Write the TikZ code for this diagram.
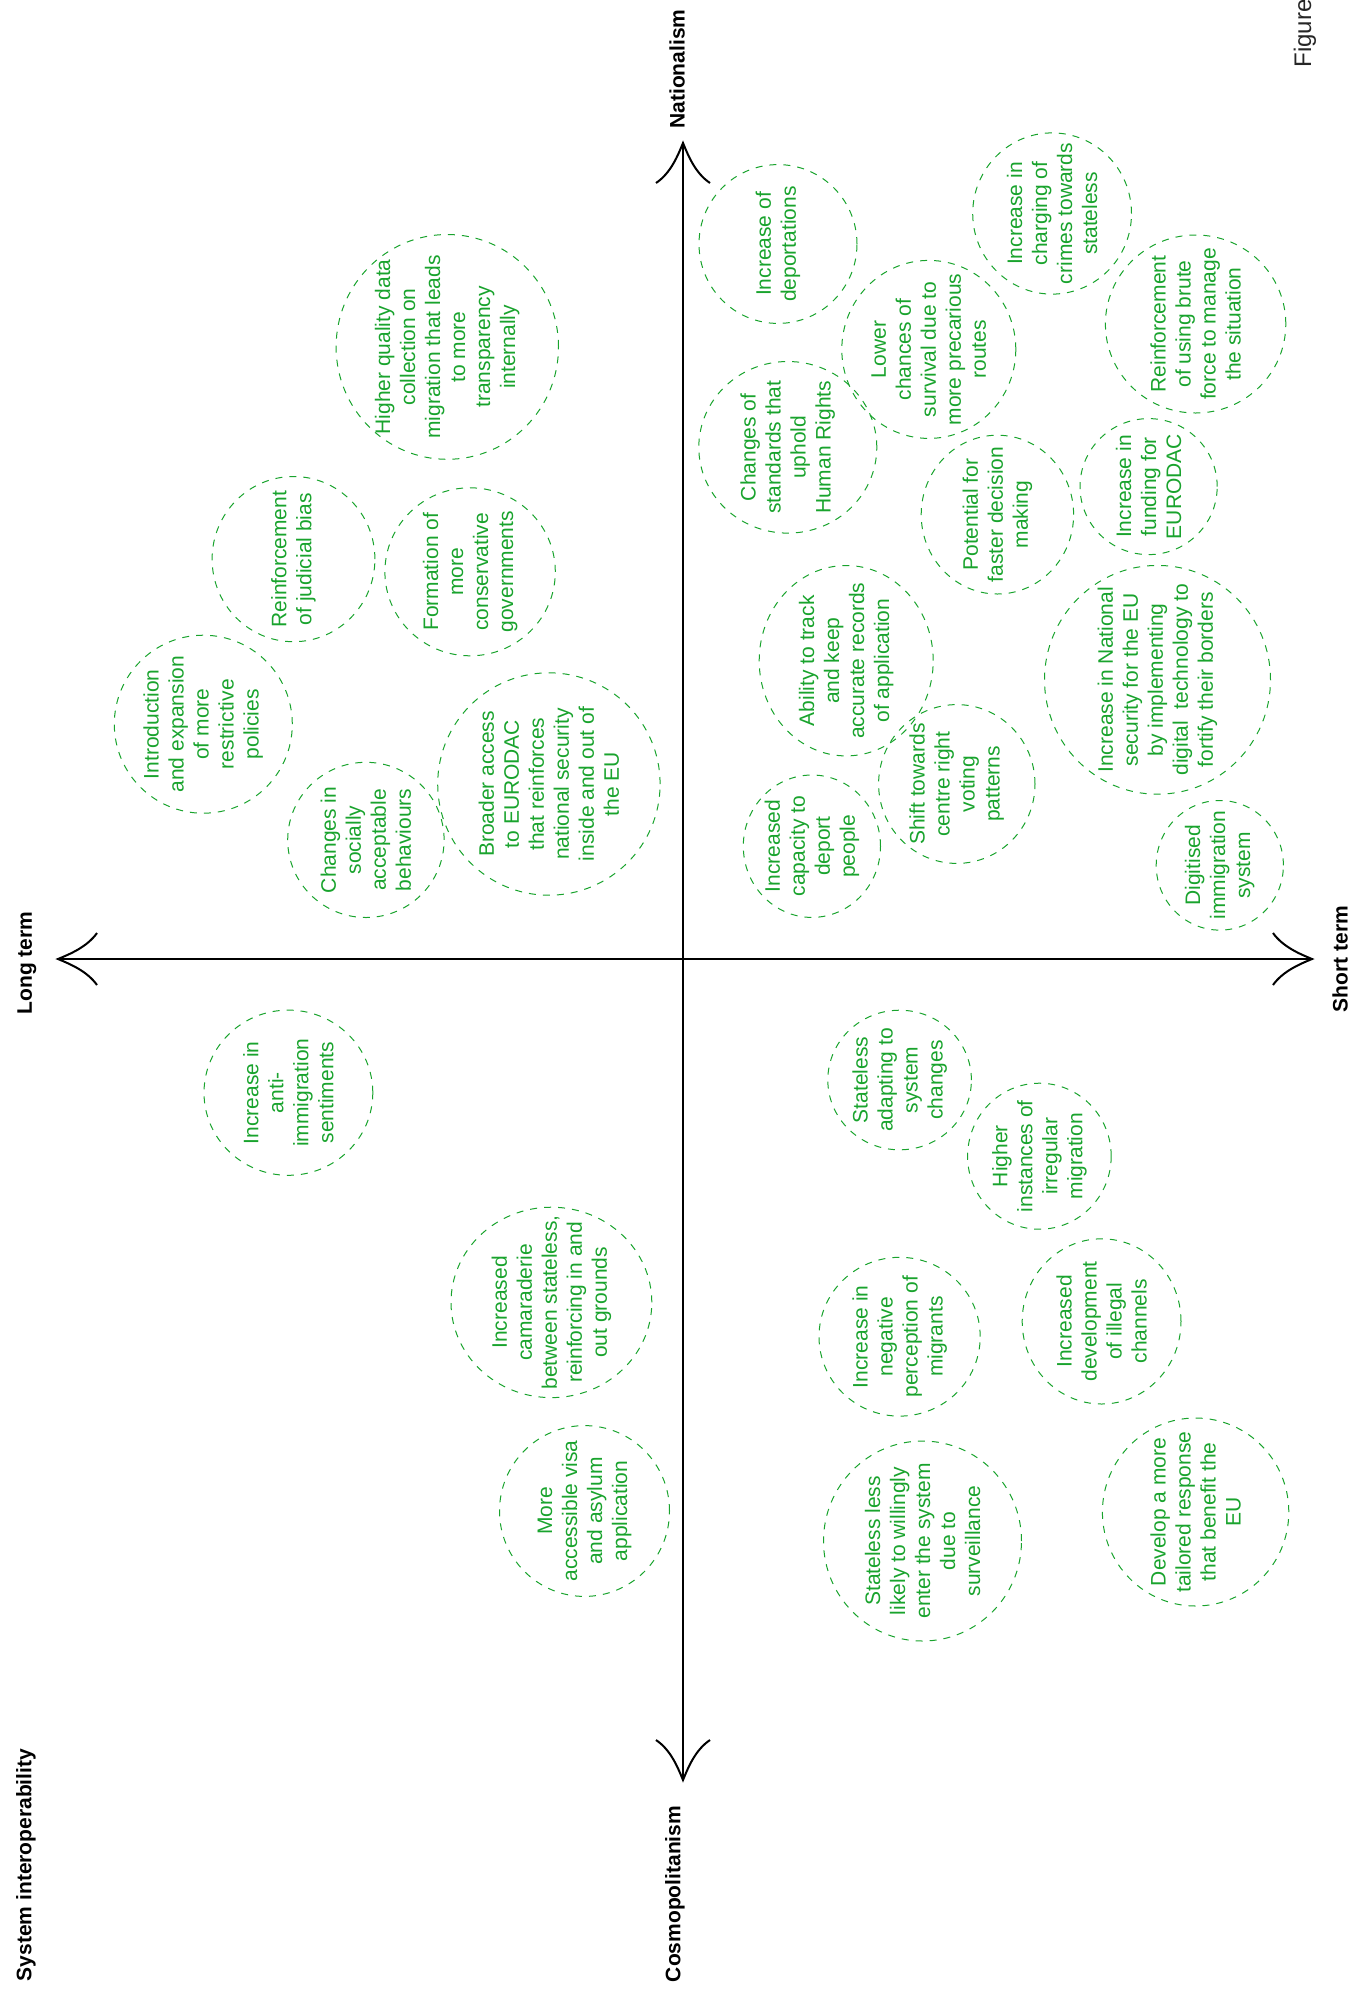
\documentclass[tikz,border=0pt]{standalone}
\usepackage{fontspec}
\setmainfont{Liberation Sans}
\definecolor{bgreen}{RGB}{25,163,45}
\newcommand\bub[6]{\node[btext] (#1) at (#2,#3) {#6};
  \draw[bline] (#1.center) ellipse [x radius=#4pt, y radius=#5pt];}
\begin{document}
\begin{tikzpicture}[x=0.5pt,y=-0.5pt,
  btext/.style={rotate=90, text=bgreen, align=center, inner sep=0pt,
    font=\fontsize{10.5}{12.5}\selectfont},
  bline/.style={draw=bgreen, dash pattern=on 3.5pt off 3.5pt, line width=0.5pt},
  axis/.style={line width=1pt, draw=black},
  alabel/.style={rotate=90, inner sep=0pt, font=\fontsize{10.5}{12.6}\selectfont\bfseries}]
\useasboundingbox (0,0) rectangle (1357,1993);
\clip (0,0) rectangle (1357,1993);

% axes
\coordinate (N) at (683,143);
\coordinate (S) at (683,1780);
\coordinate (W) at (58,959);
\coordinate (E) at (1312,959);
\draw[axis] (S) -- (N);
\draw[axis] (W) -- (E);
\begin{scope}[shift={(N)}]
  \draw[axis] (-27,40) .. controls (-12,30) and (-5,12) .. (0,0) .. controls (5,12) and (12,30) .. (27,40);
\end{scope}
\begin{scope}[shift={(S)}]
  \draw[axis] (-27,-40) .. controls (-12,-30) and (-5,-12) .. (0,0) .. controls (5,-12) and (12,-30) .. (27,-40);
\end{scope}
\begin{scope}[shift={(W)}]
  \draw[axis] (39,-26) .. controls (29,-12) and (12,-5) .. (0,0) .. controls (12,5) and (29,12) .. (39,26);
\end{scope}
\begin{scope}[shift={(E)}]
  \draw[axis] (-39,-26) .. controls (-29,-12) and (-12,-5) .. (0,0) .. controls (-12,5) and (-29,12) .. (-39,26);
\end{scope}

% axis labels
\node[alabel] (lnat) at (677,69) {Nationalism};
\node[alabel] (lcos) at (675,1894) {Cosmopolitanism};
\node[alabel] (llong) at (27,963) {Long term};
\node[alabel] (lshort) at (1340,959) {Short term};
\node[alabel] (lsys) at (26,1865) {System interoperability};
\node[rotate=90, anchor=west, inner sep=0pt, text=black!85, font=\fontsize{12}{14}\selectfont] (lfig) at (1305,68) {Figure};

% upper left
\bub{a}{447.3}{346.9}{55.6}{56.2}{Higher quality data\\collection on\\migration that leads\\to more\\transparency\\internally}
\bub{b}{293.5}{559.1}{40.7}{41.3}{Reinforcement\\of judicial bias}
\bub{c}{470.1}{571.8}{42.6}{42.0}{Formation of\\more\\conservative\\governments}
\bub{d}{203.3}{724.2}{44.5}{44.5}{Introduction\\and expansion\\of more\\restrictive\\policies}
\bub{e}{365.9}{839.9}{39.1}{38.8}{Changes in\\socially\\acceptable\\behaviours}
\bub{f}{548.9}{784.0}{55.6}{55.6}{Broader access\\to EURODAC\\that reinforces\\national security\\inside and out of\\the EU}

% upper right
\bub{g}{778.0}{244.0}{39.5}{39.7}{Increase of\\deportations}
\bub{h}{1052.1}{213.5}{39.7}{40.3}{Increase in\\charging of\\crimes towards\\stateless}
\bub{i}{928.8}{349.4}{43.5}{44.5}{Lower\\chances of\\survival due to\\more precarious\\routes}
\bub{j}{1195.6}{324.0}{45.1}{44.5}{Reinforcement\\of using brute\\force to manage\\the situation}
\bub{k}{787.8}{447.3}{44.5}{42.9}{Changes of\\standards that\\uphold\\Human Rights}
\bub{l}{997.4}{514.6}{38.1}{39.7}{Potential for\\faster decision\\making}
\bub{m}{1148.6}{486.6}{34.3}{34.0}{Increase in\\funding for\\EURODAC}
\bub{n}{846.2}{660.7}{43.5}{47.6}{Ability to track\\and keep\\accurate records\\of application}
\bub{o}{1157.5}{679.8}{56.5}{57.2}{Increase in National\\security for the EU\\by implementing\\digital\ \ technology to\\fortify their borders}
\bub{p}{956.8}{784.0}{39.1}{39.7}{Shift towards\\centre right\\voting\\patterns}
\bub{q}{811.9}{846.2}{34.3}{35.6}{Increased\\capacity to\\deport\\people}
\bub{r}{1219.8}{865.3}{31.8}{32.4}{Digitised\\immigration\\system}

% lower left
\bub{s}{288.4}{1092.7}{42.2}{41.3}{Increase in\\anti-\\immigration\\sentiments}
\bub{t}{551.4}{1302.4}{50.2}{47.6}{Increased\\camaraderie\\between stateless,\\reinforcing in and\\out grounds}
\bub{u}{584.5}{1511.0}{42.5}{42.7}{More\\accessible visa\\and asylum\\application}

% lower right
\bub{v}{899.6}{1080.0}{35.9}{34.9}{Stateless\\adapting to\\system\\changes}
\bub{w}{1039.4}{1156.2}{35.9}{36.5}{Higher\\instances of\\irregular\\migration}
\bub{x}{899.6}{1336.7}{40.3}{39.7}{Increase in\\negative\\perception of\\migrants}
\bub{y}{1101.6}{1321.4}{39.7}{41.3}{Increased\\development\\of illegal\\channels}
\bub{z}{922.5}{1541.0}{49.5}{50.0}{Stateless less\\likely to willingly\\enter the system\\due to\\surveillance}
\bub{aa}{1195.6}{1512.0}{46.6}{47.0}{Develop a more\\tailored response\\that benefit the\\EU}
\end{tikzpicture}
\end{document}
